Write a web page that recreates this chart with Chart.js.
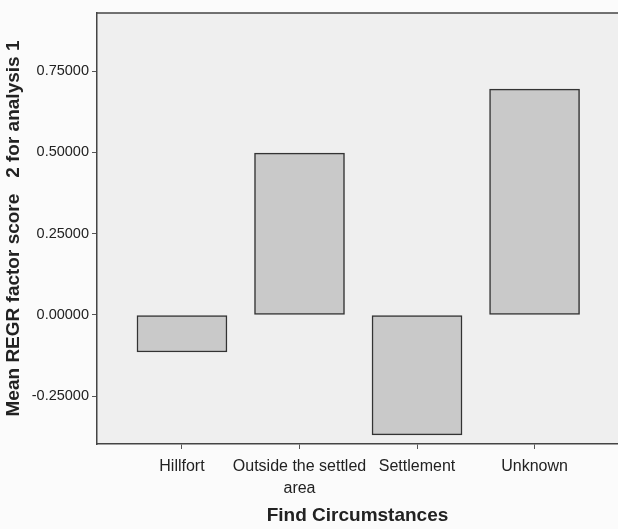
<!DOCTYPE html>
<html>
<head>
<meta charset="utf-8">
<script src="https://cdn.jsdelivr.net/npm/chart.js@4.4.0/dist/chart.umd.min.js"></script>
<style>
  html, body { margin: 0; padding: 0; background: #fbfbfb; }
  #wrap { width: 618px; height: 529px; }
</style>
</head>
<body>
<div id="wrap"><canvas id="chart" width="618" height="529"></canvas></div>
<script>
// === Data ===
const categories = ['Hillfort', ['Outside the settled', 'area'], 'Settlement', 'Unknown'];
const meanScores = [-0.114, 0.498, -0.369, 0.695];
const yTicks = [-0.25, 0, 0.25, 0.5, 0.75];

// plot background + top frame line
const frame = {
  id: 'frame',
  beforeDraw(chart) {
    const { ctx, chartArea: a } = chart;
    ctx.save();
    ctx.fillStyle = '#efefef';
    ctx.fillRect(a.left, a.top, a.right - a.left, a.bottom - a.top);
    ctx.restore();
  },
  afterDraw(chart) {
    const { ctx, chartArea: a } = chart;
    ctx.save();
    ctx.strokeStyle = '#444';
    ctx.lineWidth = 1.5;
    ctx.beginPath();
    ctx.moveTo(a.left, a.top);
    ctx.lineTo(a.right, a.top);
    ctx.stroke();
    ctx.restore();
  }
};

new Chart(document.getElementById('chart'), {
  type: 'bar',
  data: {
    datasets: [{
      data: meanScores.map((v, i) => ({ x: i, y: v })),
      backgroundColor: '#c9c9c9',
      borderColor: '#333',
      borderWidth: 1.5,
      borderSkipped: false,
      barThickness: 90
    }]
  },
  options: {
    responsive: false,
    animation: false,
    layout: { padding: { top: 13, right: 0, left: 0, bottom: 0 } },
    plugins: { legend: { display: false }, tooltip: { enabled: false } },
    scales: {
      x: {
        type: 'linear',
        offset: false,
        min: -0.723,
        max: 3.71,
        afterBuildTicks: s => { s.ticks = categories.map((c, i) => ({ value: i })); },
        afterFit: s => { s.height = 85; },
        ticks: {
          callback: v => categories[v],
          color: '#222',
          font: { family: 'Liberation Sans, Arial', size: 16, lineHeight: 1.4 },
          padding: 6,
          maxRotation: 0,
          autoSkip: false
        },
        grid: { offset: false, drawOnChartArea: false, drawTicks: true, tickLength: 5, color: '#555' },
        border: { color: '#444', width: 1.5 },
        title: {
          display: true,
          text: 'Find Circumstances',
          color: '#222',
          font: { family: 'Liberation Sans, Arial', size: 19, weight: 'bold' },
          padding: { top: 2, bottom: 2 }
        }
      },
      y: {
        min: -0.397,
        max: 0.929,
        afterBuildTicks: s => { s.ticks = yTicks.map(v => ({ value: v })); },
        afterFit: s => { s.width = 97; },
        ticks: {
          callback: v => v.toFixed(5),
          color: '#222',
          font: { family: 'Liberation Sans, Arial', size: 14.5 },
          padding: 3
        },
        grid: { drawOnChartArea: false, drawTicks: true, tickLength: 5, color: '#555' },
        border: { color: '#444', width: 1.5 },
        title: {
          display: true,
          text: 'Mean REGR factor score   2 for analysis 1',
          color: '#222',
          font: { family: 'Liberation Sans, Arial', size: 19, weight: 'bold' },
          padding: { top: 2, bottom: 2 }
        }
      }
    }
  },
  plugins: [frame]
});
</script>
</body>
</html>
